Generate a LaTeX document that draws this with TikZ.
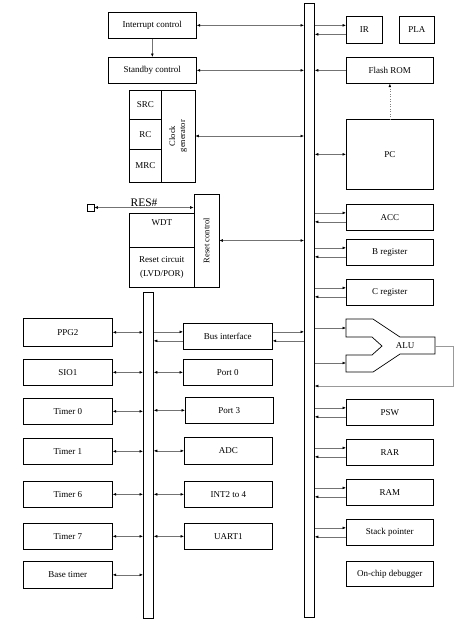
\documentclass[tikz,border=0pt]{standalone}
\usepackage{fontspec}
\setmainfont{Liberation Serif}
\usetikzlibrary{arrows.meta}
\newcommand\bx[6]{\node[blk, anchor=north west, minimum width=#4pt, minimum height=#5pt] (#1) at (#2,#3) {#6};}
\begin{document}
\begin{tikzpicture}[x=1pt,y=-1pt,
 blk/.style={draw, line width=0.7pt, fill=white, inner sep=1pt, align=center, font=\fontsize{9}{10.5}\selectfont},
 con/.style={draw=black!55, line width=0.5pt},
 ar/.style={con, -{Latex[length=3.5pt,width=2.8pt,color=black]}},
 dar/.style={con, {Latex[length=3.5pt,width=2.8pt,color=black]}-{Latex[length=3.5pt,width=2.8pt,color=black]}},
 busbar/.style={draw, line width=0.8pt, fill=white, anchor=north west, inner sep=0pt},
]
\useasboundingbox (0,0) rectangle (460,625);

% buses
\node[busbar, minimum width=10pt, minimum height=614pt] (bus) at (304,3) {};
\node[busbar, minimum width=10pt, minimum height=326pt] (ibus) at (143,292) {};

% top-left blocks
\bx{intc}{108}{12}{88}{26}{Interrupt control}
\bx{stby}{108}{57}{88}{26}{Standby control}
\bx{src}{129}{90}{32}{29}{SRC}
\bx{rc}{129}{119}{32}{30}{RC}
\bx{mrc}{129}{149}{32}{33}{MRC}
\node[blk, rotate=90, minimum width=92pt, minimum height=34pt, font=\fontsize{8.5}{10}\selectfont] (clk) at (178,136) {Clock\\generator};

% reset group
\bx{wdt}{129}{213}{65}{34}{WDT\\[6pt]\mbox{}}
\bx{rstc}{129}{247}{65}{40}{Reset circuit\\[3pt](LVD/POR)}
\node[blk, rotate=90, minimum width=93pt, minimum height=25pt, font=\fontsize{8.5}{10}\selectfont] (resc) at (206.5,240.5) {Reset control};
\node[draw, line width=0.7pt, minimum size=7pt, inner sep=0pt] (resq) at (90.5,207.5) {};

% right column
\bx{ir}{346}{16}{36}{27}{IR}
\bx{pla}{399}{16}{35}{27}{PLA}
\bx{flash}{346}{57}{87}{26}{Flash ROM}
\bx{pc}{346}{119}{87}{70}{PC}
\bx{acc}{346}{204}{87}{26}{ACC}
\bx{breg}{346}{239}{87}{26}{B register}
\bx{creg}{346}{279}{87}{26}{C register}
\bx{psw}{346}{399}{87}{26}{PSW}
\bx{rar}{346}{439}{87}{26}{RAR}
\bx{ram}{346}{479}{87}{26}{RAM}
\bx{sp}{346}{519}{87}{26}{Stack pointer}
\bx{ocd}{346}{561}{87}{25}{On-chip debugger}

% ALU
\draw[line width=0.7pt] (346,319) -- (373,319) -- (400,337) -- (435,337) -- (435,354) -- (400,354)
  -- (373,372) -- (346,372) -- (346,355) -- (372,355) -- (382,346) -- (372,337) -- (346,337) -- cycle;
\node[font=\fontsize{9}{10.5}\selectfont] (alu) at (405,346) {ALU};
\coordinate (aluin1) at (346,328);
\coordinate (aluin2) at (346,363);
\coordinate (aluout) at (435,346);
\coordinate (fbend) at (453,386);

% left peripherals
\bx{ppg}{23}{318}{89}{28}{PPG2}
\bx{sio}{23}{359}{89}{26}{SIO1}
\bx{tz}{23}{398}{89}{26}{Timer 0}
\bx{tone}{23}{438}{89}{26}{Timer 1}
\bx{tsix}{23}{481}{89}{26}{Timer 6}
\bx{tseven}{23}{523}{89}{26}{Timer 7}
\bx{bt}{23}{561}{89}{27}{Base timer}

\bx{bif}{183}{323}{89}{26}{Bus interface}
\bx{pz}{183}{359}{89}{26}{Port 0}
\bx{pthree}{185}{397}{88}{26}{Port 3}
\bx{adc}{184}{437}{88}{27}{ADC}
\bx{intb}{184}{481}{88}{26}{INT2 to 4}
\bx{uart}{184}{523}{88}{26}{UART1}

% connectors: left side of main bus
\draw[ar] (intc.south) -- (stby.north);
\draw[dar] (intc.east) -- (intc.east -| bus.west);
\draw[dar] (stby.east) -- (stby.east -| bus.west);
\draw[dar] (clk.south) -- (clk.south -| bus.west);
\draw[dar] (resc.south) -- (resc.south -| bus.west);
\draw[dar] (resq.east) -- node[above, font=\fontsize{11.5}{13}\selectfont, inner sep=1pt] {RES\#} (resq.east -| resc.north);

% connectors: right side of main bus
\draw[ar] ([yshift=4.5pt]ir.west -| bus.east) -- ([yshift=4.5pt]ir.west);
\draw[ar] ([yshift=-4.5pt]ir.west) -- ([yshift=-4.5pt]ir.west -| bus.east);
\draw[ar] (flash.west) -- (flash.west -| bus.east);
\draw[ar, dotted, draw=black!50] (pc.north) -- (flash.south);
\draw[dar] (pc.west) -- (pc.west -| bus.east);
\foreach \b in {acc,breg,creg,psw,rar,ram,sp}{
  \draw[ar] ([yshift=4.5pt]\b.west -| bus.east) -- ([yshift=4.5pt]\b.west);
  \draw[ar] ([yshift=-4.5pt]\b.west) -- ([yshift=-4.5pt]\b.west -| bus.east);
}
\draw[ar] (aluin1 -| bus.east) -- (aluin1);
\draw[ar] (aluin2 -| bus.east) -- (aluin2);
\draw[ar, draw=black!40] (aluout) -| (fbend) -- (fbend -| bus.east);

% bus interface
\draw[ar] ([yshift=4.5pt]bif.west -| ibus.east) -- ([yshift=4.5pt]bif.west);
\draw[ar] ([yshift=-4.5pt]bif.west) -- ([yshift=-4.5pt]bif.west -| ibus.east);
\draw[ar] ([yshift=4.5pt]bif.east) -- ([yshift=4.5pt]bif.east -| bus.west);
\draw[ar] ([yshift=-4.5pt]bif.east -| bus.west) -- ([yshift=-4.5pt]bif.east);

% peripheral bus
\foreach \b in {ppg,sio,tz,tone,tsix,tseven,bt}{
  \draw[dar] (\b.east) -- (\b.east -| ibus.west);
}
\foreach \b in {pz,pthree,adc,intb,uart}{
  \draw[dar] (\b.west -| ibus.east) -- (\b.west);
}
\end{tikzpicture}
\end{document}
